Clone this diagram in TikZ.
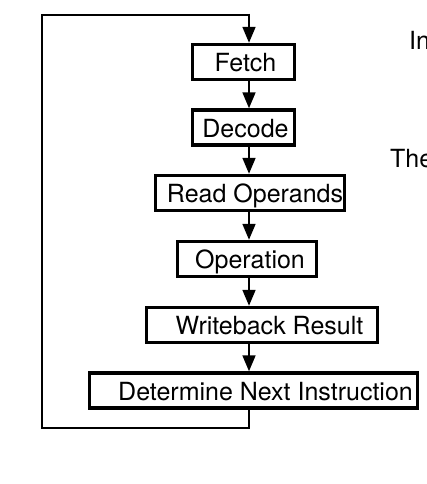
\documentclass[tikz,border=0pt]{standalone}
\usepackage{fontspec}
\setmainfont{TeX Gyre Heros}
\usetikzlibrary{arrows.meta}
\begin{document}
\begin{tikzpicture}[x=1pt,y=-1pt,
  stagebox/.style={draw=black,line width=3.1pt,rectangle,inner sep=0pt,minimum height=35pt},
  stagetext/.style={inner sep=0pt,anchor=base,font=\fontsize{25}{30}\selectfont},
  sidetext/.style={inner sep=0pt,anchor=base west,font=\fontsize{25}{30}\selectfont},
  flow/.style={line width=2.9pt,-{Triangle[length=16pt,width=12.5pt]}},
  loopline/.style={line width=2.9pt}]
\useasboundingbox (0,0) rectangle (426,484);
\clip (0,0) rectangle (426,484);
\fill[white] (0,0) rectangle (426,484);
\coordinate (ax) at (249,0);
% boxes
\node[stagebox,minimum width=102pt] (fetch) at (243.5,62) {};
\node[stagebox,minimum width=102pt] (decode) at (243.5,127.5) {};
\node[stagebox,minimum width=189pt] (read) at (250,193) {};
\node[stagebox,minimum width=139pt] (oper) at (247,259) {};
\node[stagebox,minimum width=231pt] (write) at (262,325) {};
\node[stagebox,minimum width=328pt] (next) at (253.5,390.5) {};
% texts
\node[stagetext] (tfetch) at (245.5,71.5) {Fetch};
\node[stagetext] (tdecode) at (245.5,137) {Decode};
\node[stagetext] (tread) at (255,202.5) {Read Operands};
\node[stagetext] (toper) at (250,268.5) {Operation};
\node[stagetext] (twrite) at (269.5,334.5) {Writeback Result};
\node[stagetext] (tnext) at (265.5,400) {Determine Next Instruction};
\node[sidetext] (tin) at (409,50) {In};
\node[sidetext] (tthe) at (390,167) {The};
% arrows
\draw[flow] (fetch.south -| ax) -- (decode.north -| ax);
\draw[flow] (decode.south -| ax) -- (read.north -| ax);
\draw[flow] (read.south -| ax) -- (oper.north -| ax);
\draw[flow] (oper.south -| ax) -- (write.north -| ax);
\draw[flow] (write.south -| ax) -- (next.north -| ax);
% loop
\coordinate (lb) at (249,428);
\coordinate (ll) at (42,428);
\coordinate (lt) at (42,15);
\coordinate (lr) at (249,15);
\draw[loopline] (next.south -| ax) -- (lb) -- (ll) -- (lt) -- (lr);
\draw[flow] ([yshift=1.45pt]lr) -- (fetch.north -| ax);
\end{tikzpicture}
\end{document}
